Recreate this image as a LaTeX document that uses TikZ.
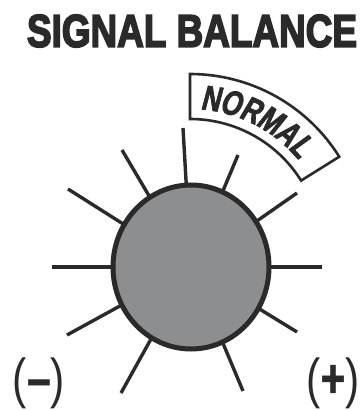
\documentclass[tikz,border=0pt]{standalone}
\usepackage{fontspec}
\usepackage{graphicx}
\usetikzlibrary{calc}
\newfontfamily\titlefont{Liberation Sans Bold}[FakeBold=4]
\newfontfamily\condfont{Liberation Sans Bold}[FakeStretch=0.75,FakeBold=2,FakeSlant=0.12]
\newfontfamily\signfont{Liberation Sans Bold}[FakeBold=1]
\newfontfamily\parenfont{Liberation Sans}
\definecolor{ink}{HTML}{2A2A2A}
\definecolor{knob}{HTML}{8C8E90}
\begin{document}
\begin{tikzpicture}[x=1pt,y=1pt,
  tickline/.style={line width=3.4pt, draw=ink},
  knobedge/.style={line width=5pt, draw=ink, fill=knob},
  banner/.style={line width=2.6pt, draw=ink, line join=miter},
  letter/.style={text=ink, inner sep=0pt, font=\condfont\fontsize{35}{35}\selectfont},
  sign/.style={text=ink, inner sep=0pt}]
\useasboundingbox (0,0) rectangle (363,410);
\fill[white] (0,0) rectangle (363,410);
\node[sign] (title) at (192,379) {\resizebox{330pt}{32pt}{\titlefont SIGNAL BALANCE}};
\coordinate (c) at (191,143);
\foreach \x/\y in {183/282, 238/255, 297/217, 322/143, 297/78, 243/19, 121/17, 67/75, 52/143, 68/221, 122/260}
  \draw[tickline] (\x,\y) -- ($(\x,\y)!0.6!(c)$);
\draw[knobedge] (c) ellipse [x radius=78, y radius=82];
\coordinate (b) at (190,160);
\draw[banner] ($(b)+(90:176pt)$) arc[start angle=90, end angle=32, radius=176pt]
  -- ($(b)+(32:131pt)$) arc[start angle=32, end angle=90, radius=131pt] -- cycle;
\foreach \ch/\a in {N/82, O/74.2, R/66.2, M/58.1, A/50, L/42.9}
  \node[letter, rotate=\a-90] (n\ch) at ($(b)+(\a:153pt)$) {\ch};
\node[sign] (minus) at (39,27) {\resizebox*{52pt}{51pt}{\parenfont(\signfont–\parenfont)}};
\node[sign] (plus) at (333,27) {\resizebox*{53pt}{51pt}{\parenfont(\signfont+\parenfont)}};
\end{tikzpicture}
\end{document}
